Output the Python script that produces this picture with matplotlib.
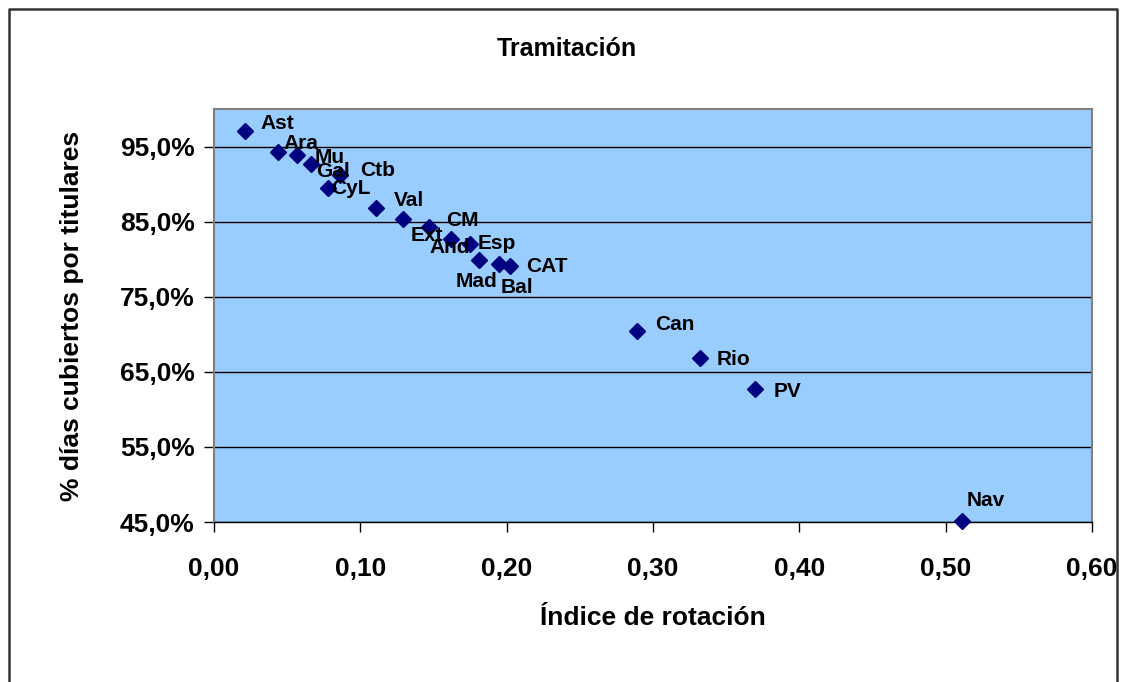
import matplotlib
matplotlib.use("Agg")
import matplotlib.pyplot as plt
import matplotlib.ticker as ticker
from matplotlib.lines import Line2D

plt.rcParams['font.family'] = ['Liberation Sans', 'DejaVu Sans']
plt.rcParams['font.weight'] = 'bold'

# datos
regiones = ["Ast", "Ara", "Mu", "Gal", "Ctb", "CyL", "Val", "Ext", "CM",
            "And", "Esp", "Mad", "Bal", "CAT", "Can", "Rio", "PV", "Nav"]
rotacion = [0.021, 0.044, 0.057, 0.066, 0.086, 0.078, 0.111, 0.129, 0.147,
            0.162, 0.175, 0.181, 0.195, 0.202, 0.289, 0.332, 0.370, 0.511]
cobertura = [0.971, 0.943, 0.939, 0.927, 0.912, 0.895, 0.868, 0.853, 0.843,
             0.827, 0.820, 0.799, 0.794, 0.791, 0.705, 0.668, 0.627, 0.452]

# desplazamiento de cada etiqueta en pixeles (x, y)
desp = [(16, 1.5), (5, 2.5), (17, -8.5), (6, -13.5), (20, -0.5), (3, -6.5),
        (17, 2.5), (8, -21.5), (17, 0.5), (-22, -14.5), (8, -4.5), (-23, -27.5),
        (1, -29.5), (17, -6.5), (18, 0.5), (17, -6.5), (18, -7.5), (5, 14.5)]

fig = plt.figure(figsize=(11.25, 6.82), dpi=100)
ax = fig.add_axes([0.1902, 0.2346, 0.7805, 0.6056])
ax.set_facecolor('#99CCFF')

ax.plot(rotacion, cobertura, linestyle='none', marker='D', markersize=8.5,
        color='#000080', clip_on=False, zorder=3)
for nom, x, y, d in zip(regiones, rotacion, cobertura, desp):
    ax.annotate(nom, (x, y), xytext=d, textcoords='offset pixels',
                ha='left', va='baseline', fontsize=15, fontweight='bold')

ax.set_xlim(0, 0.6)
ax.set_ylim(0.45, 1.0)
ax.xaxis.set_major_locator(ticker.MultipleLocator(0.1))
ax.set_yticks([0.45, 0.55, 0.65, 0.75, 0.85, 0.95])
ax.xaxis.set_major_formatter(ticker.FuncFormatter(lambda v, p: f"{v:.2f}".replace('.', ',')))
ax.yaxis.set_major_formatter(ticker.FuncFormatter(lambda v, p: f"{v*100:.1f}%".replace('.', ',')))
ax.tick_params(axis='both', labelsize=19, direction='out', length=7, width=1, color='black')
ax.tick_params(axis='x', pad=18)
ax.tick_params(axis='y', pad=7)
for lab in ax.get_xticklabels() + ax.get_yticklabels():
    lab.set_fontweight('bold')

ax.grid(axis='y', color='black', linewidth=1)
ax.set_axisbelow(True)
for s in ['top', 'right', 'left']:
    ax.spines[s].set_color('#808080')
    ax.spines[s].set_linewidth(1.5)
ax.spines['bottom'].set_color('black')
ax.spines['bottom'].set_linewidth(1)

ax.set_xlabel("Índice de rotación", fontsize=19, fontweight='bold', labelpad=18)
ax.set_ylabel("% días cubiertos por titulares", fontsize=19, fontweight='bold', labelpad=26)
fig.text(0.504, 0.928, "Tramitación", ha='center', va='center', fontsize=18, fontweight='bold')

# marco exterior
x0, x1 = 9 / 1125, 1117 / 1125
y1 = 1 - 9 / 682
fig.add_artist(Line2D([x0, x0, x1, x1], [0, y1, y1, 0], transform=fig.transFigure,
                      color='#333333', linewidth=1.8))

fig.savefig("out.png", dpi=100)
